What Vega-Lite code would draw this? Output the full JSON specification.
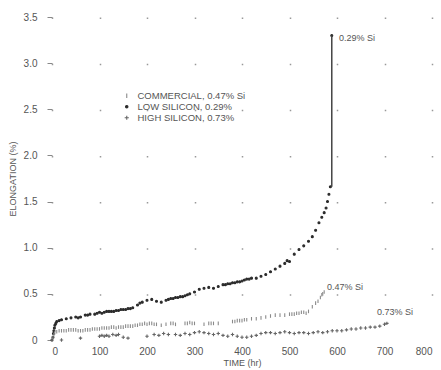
{
  "$schema": "https://vega.github.io/schema/vega-lite/v6.json",
  "width": 380,
  "height": 323,
  "autosize": "none",
  "padding": {"left": 52, "top": 17, "right": 9, "bottom": 30},
  "background": "white",
  "config": {
    "view": {"stroke": null},
    "font": "Liberation Sans",
    "axis": {"labelColor": "#555", "titleColor": "#555", "titleFontWeight": "normal", "domain": false, "labelFontSize": 10, "titleFontSize": 9}
  },
  "datasets": {
    "creep": [
      {"series": "LOW SILICON, 0.29%", "t": 0, "e": 0},
      {"series": "LOW SILICON, 0.29%", "t": 2, "e": 0.03},
      {"series": "LOW SILICON, 0.29%", "t": 3, "e": 0.07},
      {"series": "LOW SILICON, 0.29%", "t": 4, "e": 0.1},
      {"series": "LOW SILICON, 0.29%", "t": 5, "e": 0.13},
      {"series": "LOW SILICON, 0.29%", "t": 6, "e": 0.16},
      {"series": "LOW SILICON, 0.29%", "t": 8, "e": 0.18},
      {"series": "LOW SILICON, 0.29%", "t": 10, "e": 0.2},
      {"series": "LOW SILICON, 0.29%", "t": 15, "e": 0.21},
      {"series": "LOW SILICON, 0.29%", "t": 20, "e": 0.22},
      {"series": "LOW SILICON, 0.29%", "t": 30, "e": 0.23},
      {"series": "LOW SILICON, 0.29%", "t": 40, "e": 0.24},
      {"series": "LOW SILICON, 0.29%", "t": 50, "e": 0.25},
      {"series": "LOW SILICON, 0.29%", "t": 55, "e": 0.24},
      {"series": "LOW SILICON, 0.29%", "t": 60, "e": 0.25},
      {"series": "LOW SILICON, 0.29%", "t": 70, "e": 0.27},
      {"series": "LOW SILICON, 0.29%", "t": 75, "e": 0.27},
      {"series": "LOW SILICON, 0.29%", "t": 80, "e": 0.28},
      {"series": "LOW SILICON, 0.29%", "t": 90, "e": 0.28},
      {"series": "LOW SILICON, 0.29%", "t": 95, "e": 0.29},
      {"series": "LOW SILICON, 0.29%", "t": 100, "e": 0.3},
      {"series": "LOW SILICON, 0.29%", "t": 105, "e": 0.29},
      {"series": "LOW SILICON, 0.29%", "t": 110, "e": 0.3},
      {"series": "LOW SILICON, 0.29%", "t": 115, "e": 0.31},
      {"series": "LOW SILICON, 0.29%", "t": 120, "e": 0.31},
      {"series": "LOW SILICON, 0.29%", "t": 125, "e": 0.31},
      {"series": "LOW SILICON, 0.29%", "t": 130, "e": 0.31},
      {"series": "LOW SILICON, 0.29%", "t": 135, "e": 0.32},
      {"series": "LOW SILICON, 0.29%", "t": 140, "e": 0.32},
      {"series": "LOW SILICON, 0.29%", "t": 145, "e": 0.33},
      {"series": "LOW SILICON, 0.29%", "t": 150, "e": 0.33},
      {"series": "LOW SILICON, 0.29%", "t": 155, "e": 0.33},
      {"series": "LOW SILICON, 0.29%", "t": 160, "e": 0.34},
      {"series": "LOW SILICON, 0.29%", "t": 165, "e": 0.34},
      {"series": "LOW SILICON, 0.29%", "t": 170, "e": 0.35},
      {"series": "LOW SILICON, 0.29%", "t": 180, "e": 0.38},
      {"series": "LOW SILICON, 0.29%", "t": 185, "e": 0.4},
      {"series": "LOW SILICON, 0.29%", "t": 190, "e": 0.41},
      {"series": "LOW SILICON, 0.29%", "t": 200, "e": 0.43},
      {"series": "LOW SILICON, 0.29%", "t": 210, "e": 0.44},
      {"series": "LOW SILICON, 0.29%", "t": 220, "e": 0.42},
      {"series": "LOW SILICON, 0.29%", "t": 230, "e": 0.41},
      {"series": "LOW SILICON, 0.29%", "t": 240, "e": 0.43},
      {"series": "LOW SILICON, 0.29%", "t": 245, "e": 0.44},
      {"series": "LOW SILICON, 0.29%", "t": 250, "e": 0.45},
      {"series": "LOW SILICON, 0.29%", "t": 255, "e": 0.45},
      {"series": "LOW SILICON, 0.29%", "t": 260, "e": 0.46},
      {"series": "LOW SILICON, 0.29%", "t": 265, "e": 0.46},
      {"series": "LOW SILICON, 0.29%", "t": 270, "e": 0.47},
      {"series": "LOW SILICON, 0.29%", "t": 275, "e": 0.47},
      {"series": "LOW SILICON, 0.29%", "t": 280, "e": 0.48},
      {"series": "LOW SILICON, 0.29%", "t": 285, "e": 0.49},
      {"series": "LOW SILICON, 0.29%", "t": 290, "e": 0.5},
      {"series": "LOW SILICON, 0.29%", "t": 300, "e": 0.52},
      {"series": "LOW SILICON, 0.29%", "t": 310, "e": 0.55},
      {"series": "LOW SILICON, 0.29%", "t": 320, "e": 0.56},
      {"series": "LOW SILICON, 0.29%", "t": 330, "e": 0.57},
      {"series": "LOW SILICON, 0.29%", "t": 340, "e": 0.56},
      {"series": "LOW SILICON, 0.29%", "t": 350, "e": 0.58},
      {"series": "LOW SILICON, 0.29%", "t": 360, "e": 0.6},
      {"series": "LOW SILICON, 0.29%", "t": 365, "e": 0.6},
      {"series": "LOW SILICON, 0.29%", "t": 370, "e": 0.61},
      {"series": "LOW SILICON, 0.29%", "t": 375, "e": 0.61},
      {"series": "LOW SILICON, 0.29%", "t": 380, "e": 0.62},
      {"series": "LOW SILICON, 0.29%", "t": 385, "e": 0.62},
      {"series": "LOW SILICON, 0.29%", "t": 390, "e": 0.63},
      {"series": "LOW SILICON, 0.29%", "t": 395, "e": 0.63},
      {"series": "LOW SILICON, 0.29%", "t": 400, "e": 0.64},
      {"series": "LOW SILICON, 0.29%", "t": 405, "e": 0.65},
      {"series": "LOW SILICON, 0.29%", "t": 410, "e": 0.66},
      {"series": "LOW SILICON, 0.29%", "t": 415, "e": 0.66},
      {"series": "LOW SILICON, 0.29%", "t": 420, "e": 0.67},
      {"series": "LOW SILICON, 0.29%", "t": 430, "e": 0.67},
      {"series": "LOW SILICON, 0.29%", "t": 440, "e": 0.69},
      {"series": "LOW SILICON, 0.29%", "t": 450, "e": 0.71},
      {"series": "LOW SILICON, 0.29%", "t": 460, "e": 0.74},
      {"series": "LOW SILICON, 0.29%", "t": 470, "e": 0.77},
      {"series": "LOW SILICON, 0.29%", "t": 480, "e": 0.8},
      {"series": "LOW SILICON, 0.29%", "t": 490, "e": 0.83},
      {"series": "LOW SILICON, 0.29%", "t": 495, "e": 0.86},
      {"series": "LOW SILICON, 0.29%", "t": 500, "e": 0.85},
      {"series": "LOW SILICON, 0.29%", "t": 510, "e": 0.93},
      {"series": "LOW SILICON, 0.29%", "t": 520, "e": 0.98},
      {"series": "LOW SILICON, 0.29%", "t": 530, "e": 1.02},
      {"series": "LOW SILICON, 0.29%", "t": 540, "e": 1.07},
      {"series": "LOW SILICON, 0.29%", "t": 548, "e": 1.12},
      {"series": "LOW SILICON, 0.29%", "t": 555, "e": 1.19},
      {"series": "LOW SILICON, 0.29%", "t": 562, "e": 1.27},
      {"series": "LOW SILICON, 0.29%", "t": 568, "e": 1.33},
      {"series": "LOW SILICON, 0.29%", "t": 573, "e": 1.38},
      {"series": "LOW SILICON, 0.29%", "t": 577, "e": 1.43},
      {"series": "LOW SILICON, 0.29%", "t": 580, "e": 1.5},
      {"series": "LOW SILICON, 0.29%", "t": 583, "e": 1.58},
      {"series": "LOW SILICON, 0.29%", "t": 586, "e": 1.66},
      {"series": "LOW SILICON, 0.29%", "t": 589, "e": 3.3},
      {"series": "COMMERCIAL, 0.47% Si", "t": 0, "e": 0},
      {"series": "COMMERCIAL, 0.47% Si", "t": 2, "e": 0.03},
      {"series": "COMMERCIAL, 0.47% Si", "t": 4, "e": 0.06},
      {"series": "COMMERCIAL, 0.47% Si", "t": 6, "e": 0.08},
      {"series": "COMMERCIAL, 0.47% Si", "t": 10, "e": 0.09},
      {"series": "COMMERCIAL, 0.47% Si", "t": 15, "e": 0.1},
      {"series": "COMMERCIAL, 0.47% Si", "t": 20, "e": 0.1},
      {"series": "COMMERCIAL, 0.47% Si", "t": 25, "e": 0.1},
      {"series": "COMMERCIAL, 0.47% Si", "t": 30, "e": 0.1},
      {"series": "COMMERCIAL, 0.47% Si", "t": 35, "e": 0.11},
      {"series": "COMMERCIAL, 0.47% Si", "t": 40, "e": 0.11},
      {"series": "COMMERCIAL, 0.47% Si", "t": 45, "e": 0.11},
      {"series": "COMMERCIAL, 0.47% Si", "t": 50, "e": 0.11},
      {"series": "COMMERCIAL, 0.47% Si", "t": 55, "e": 0.1},
      {"series": "COMMERCIAL, 0.47% Si", "t": 60, "e": 0.1},
      {"series": "COMMERCIAL, 0.47% Si", "t": 65, "e": 0.1},
      {"series": "COMMERCIAL, 0.47% Si", "t": 70, "e": 0.11},
      {"series": "COMMERCIAL, 0.47% Si", "t": 75, "e": 0.11},
      {"series": "COMMERCIAL, 0.47% Si", "t": 80, "e": 0.11},
      {"series": "COMMERCIAL, 0.47% Si", "t": 85, "e": 0.12},
      {"series": "COMMERCIAL, 0.47% Si", "t": 90, "e": 0.12},
      {"series": "COMMERCIAL, 0.47% Si", "t": 95, "e": 0.12},
      {"series": "COMMERCIAL, 0.47% Si", "t": 100, "e": 0.12},
      {"series": "COMMERCIAL, 0.47% Si", "t": 105, "e": 0.13},
      {"series": "COMMERCIAL, 0.47% Si", "t": 110, "e": 0.13},
      {"series": "COMMERCIAL, 0.47% Si", "t": 115, "e": 0.13},
      {"series": "COMMERCIAL, 0.47% Si", "t": 120, "e": 0.13},
      {"series": "COMMERCIAL, 0.47% Si", "t": 125, "e": 0.14},
      {"series": "COMMERCIAL, 0.47% Si", "t": 130, "e": 0.14},
      {"series": "COMMERCIAL, 0.47% Si", "t": 135, "e": 0.13},
      {"series": "COMMERCIAL, 0.47% Si", "t": 140, "e": 0.14},
      {"series": "COMMERCIAL, 0.47% Si", "t": 145, "e": 0.14},
      {"series": "COMMERCIAL, 0.47% Si", "t": 150, "e": 0.14},
      {"series": "COMMERCIAL, 0.47% Si", "t": 155, "e": 0.15},
      {"series": "COMMERCIAL, 0.47% Si", "t": 160, "e": 0.15},
      {"series": "COMMERCIAL, 0.47% Si", "t": 165, "e": 0.15},
      {"series": "COMMERCIAL, 0.47% Si", "t": 170, "e": 0.15},
      {"series": "COMMERCIAL, 0.47% Si", "t": 175, "e": 0.16},
      {"series": "COMMERCIAL, 0.47% Si", "t": 180, "e": 0.16},
      {"series": "COMMERCIAL, 0.47% Si", "t": 185, "e": 0.17},
      {"series": "COMMERCIAL, 0.47% Si", "t": 190, "e": 0.17},
      {"series": "COMMERCIAL, 0.47% Si", "t": 195, "e": 0.18},
      {"series": "COMMERCIAL, 0.47% Si", "t": 200, "e": 0.17},
      {"series": "COMMERCIAL, 0.47% Si", "t": 205, "e": 0.18},
      {"series": "COMMERCIAL, 0.47% Si", "t": 210, "e": 0.18},
      {"series": "COMMERCIAL, 0.47% Si", "t": 215, "e": 0.17},
      {"series": "COMMERCIAL, 0.47% Si", "t": 220, "e": 0.17},
      {"series": "COMMERCIAL, 0.47% Si", "t": 230, "e": 0.16},
      {"series": "COMMERCIAL, 0.47% Si", "t": 240, "e": 0.17},
      {"series": "COMMERCIAL, 0.47% Si", "t": 250, "e": 0.18},
      {"series": "COMMERCIAL, 0.47% Si", "t": 255, "e": 0.18},
      {"series": "COMMERCIAL, 0.47% Si", "t": 260, "e": 0.17},
      {"series": "COMMERCIAL, 0.47% Si", "t": 280, "e": 0.18},
      {"series": "COMMERCIAL, 0.47% Si", "t": 285, "e": 0.18},
      {"series": "COMMERCIAL, 0.47% Si", "t": 290, "e": 0.19},
      {"series": "COMMERCIAL, 0.47% Si", "t": 295, "e": 0.18},
      {"series": "COMMERCIAL, 0.47% Si", "t": 300, "e": 0.18},
      {"series": "COMMERCIAL, 0.47% Si", "t": 320, "e": 0.17},
      {"series": "COMMERCIAL, 0.47% Si", "t": 330, "e": 0.18},
      {"series": "COMMERCIAL, 0.47% Si", "t": 335, "e": 0.18},
      {"series": "COMMERCIAL, 0.47% Si", "t": 340, "e": 0.18},
      {"series": "COMMERCIAL, 0.47% Si", "t": 350, "e": 0.18},
      {"series": "COMMERCIAL, 0.47% Si", "t": 380, "e": 0.2},
      {"series": "COMMERCIAL, 0.47% Si", "t": 385, "e": 0.2},
      {"series": "COMMERCIAL, 0.47% Si", "t": 390, "e": 0.21},
      {"series": "COMMERCIAL, 0.47% Si", "t": 395, "e": 0.21},
      {"series": "COMMERCIAL, 0.47% Si", "t": 400, "e": 0.21},
      {"series": "COMMERCIAL, 0.47% Si", "t": 405, "e": 0.22},
      {"series": "COMMERCIAL, 0.47% Si", "t": 410, "e": 0.22},
      {"series": "COMMERCIAL, 0.47% Si", "t": 420, "e": 0.23},
      {"series": "COMMERCIAL, 0.47% Si", "t": 430, "e": 0.23},
      {"series": "COMMERCIAL, 0.47% Si", "t": 440, "e": 0.24},
      {"series": "COMMERCIAL, 0.47% Si", "t": 450, "e": 0.25},
      {"series": "COMMERCIAL, 0.47% Si", "t": 460, "e": 0.26},
      {"series": "COMMERCIAL, 0.47% Si", "t": 470, "e": 0.27},
      {"series": "COMMERCIAL, 0.47% Si", "t": 480, "e": 0.27},
      {"series": "COMMERCIAL, 0.47% Si", "t": 490, "e": 0.27},
      {"series": "COMMERCIAL, 0.47% Si", "t": 500, "e": 0.28},
      {"series": "COMMERCIAL, 0.47% Si", "t": 505, "e": 0.28},
      {"series": "COMMERCIAL, 0.47% Si", "t": 510, "e": 0.28},
      {"series": "COMMERCIAL, 0.47% Si", "t": 515, "e": 0.29},
      {"series": "COMMERCIAL, 0.47% Si", "t": 520, "e": 0.29},
      {"series": "COMMERCIAL, 0.47% Si", "t": 525, "e": 0.3},
      {"series": "COMMERCIAL, 0.47% Si", "t": 530, "e": 0.3},
      {"series": "COMMERCIAL, 0.47% Si", "t": 535, "e": 0.29},
      {"series": "COMMERCIAL, 0.47% Si", "t": 540, "e": 0.31},
      {"series": "COMMERCIAL, 0.47% Si", "t": 548, "e": 0.36},
      {"series": "COMMERCIAL, 0.47% Si", "t": 555, "e": 0.4},
      {"series": "COMMERCIAL, 0.47% Si", "t": 560, "e": 0.42},
      {"series": "COMMERCIAL, 0.47% Si", "t": 565, "e": 0.46},
      {"series": "COMMERCIAL, 0.47% Si", "t": 568, "e": 0.49},
      {"series": "COMMERCIAL, 0.47% Si", "t": 570, "e": 0.5},
      {"series": "COMMERCIAL, 0.47% Si", "t": 573, "e": 0.52},
      {"series": "HIGH SILICON, 0.73%", "t": 20, "e": 0.0},
      {"series": "HIGH SILICON, 0.73%", "t": 60, "e": 0.02},
      {"series": "HIGH SILICON, 0.73%", "t": 100, "e": 0.04},
      {"series": "HIGH SILICON, 0.73%", "t": 105, "e": 0.05},
      {"series": "HIGH SILICON, 0.73%", "t": 110, "e": 0.04},
      {"series": "HIGH SILICON, 0.73%", "t": 115, "e": 0.05},
      {"series": "HIGH SILICON, 0.73%", "t": 120, "e": 0.04},
      {"series": "HIGH SILICON, 0.73%", "t": 128, "e": 0.06},
      {"series": "HIGH SILICON, 0.73%", "t": 135, "e": 0.05},
      {"series": "HIGH SILICON, 0.73%", "t": 140, "e": 0.06},
      {"series": "HIGH SILICON, 0.73%", "t": 150, "e": 0.03},
      {"series": "HIGH SILICON, 0.73%", "t": 160, "e": 0.02},
      {"series": "HIGH SILICON, 0.73%", "t": 200, "e": 0.04},
      {"series": "HIGH SILICON, 0.73%", "t": 215, "e": 0.06},
      {"series": "HIGH SILICON, 0.73%", "t": 225, "e": 0.05},
      {"series": "HIGH SILICON, 0.73%", "t": 235, "e": 0.07},
      {"series": "HIGH SILICON, 0.73%", "t": 245, "e": 0.06},
      {"series": "HIGH SILICON, 0.73%", "t": 260, "e": 0.06},
      {"series": "HIGH SILICON, 0.73%", "t": 270, "e": 0.05},
      {"series": "HIGH SILICON, 0.73%", "t": 280, "e": 0.07},
      {"series": "HIGH SILICON, 0.73%", "t": 290, "e": 0.06},
      {"series": "HIGH SILICON, 0.73%", "t": 300, "e": 0.08},
      {"series": "HIGH SILICON, 0.73%", "t": 310, "e": 0.09},
      {"series": "HIGH SILICON, 0.73%", "t": 320, "e": 0.08},
      {"series": "HIGH SILICON, 0.73%", "t": 330, "e": 0.07},
      {"series": "HIGH SILICON, 0.73%", "t": 340, "e": 0.06},
      {"series": "HIGH SILICON, 0.73%", "t": 350, "e": 0.07},
      {"series": "HIGH SILICON, 0.73%", "t": 360, "e": 0.05},
      {"series": "HIGH SILICON, 0.73%", "t": 370, "e": 0.04},
      {"series": "HIGH SILICON, 0.73%", "t": 380, "e": 0.06},
      {"series": "HIGH SILICON, 0.73%", "t": 390, "e": 0.04},
      {"series": "HIGH SILICON, 0.73%", "t": 400, "e": 0.03},
      {"series": "HIGH SILICON, 0.73%", "t": 410, "e": 0.03},
      {"series": "HIGH SILICON, 0.73%", "t": 420, "e": 0.04},
      {"series": "HIGH SILICON, 0.73%", "t": 430, "e": 0.05},
      {"series": "HIGH SILICON, 0.73%", "t": 440, "e": 0.07},
      {"series": "HIGH SILICON, 0.73%", "t": 450, "e": 0.08},
      {"series": "HIGH SILICON, 0.73%", "t": 460, "e": 0.08},
      {"series": "HIGH SILICON, 0.73%", "t": 470, "e": 0.07},
      {"series": "HIGH SILICON, 0.73%", "t": 480, "e": 0.08},
      {"series": "HIGH SILICON, 0.73%", "t": 490, "e": 0.09},
      {"series": "HIGH SILICON, 0.73%", "t": 500, "e": 0.08},
      {"series": "HIGH SILICON, 0.73%", "t": 510, "e": 0.07},
      {"series": "HIGH SILICON, 0.73%", "t": 520, "e": 0.08},
      {"series": "HIGH SILICON, 0.73%", "t": 530, "e": 0.08},
      {"series": "HIGH SILICON, 0.73%", "t": 540, "e": 0.07},
      {"series": "HIGH SILICON, 0.73%", "t": 550, "e": 0.08},
      {"series": "HIGH SILICON, 0.73%", "t": 560, "e": 0.09},
      {"series": "HIGH SILICON, 0.73%", "t": 570, "e": 0.08},
      {"series": "HIGH SILICON, 0.73%", "t": 580, "e": 0.09},
      {"series": "HIGH SILICON, 0.73%", "t": 590, "e": 0.1},
      {"series": "HIGH SILICON, 0.73%", "t": 600, "e": 0.1},
      {"series": "HIGH SILICON, 0.73%", "t": 610, "e": 0.1},
      {"series": "HIGH SILICON, 0.73%", "t": 620, "e": 0.11},
      {"series": "HIGH SILICON, 0.73%", "t": 630, "e": 0.12},
      {"series": "HIGH SILICON, 0.73%", "t": 640, "e": 0.12},
      {"series": "HIGH SILICON, 0.73%", "t": 650, "e": 0.13},
      {"series": "HIGH SILICON, 0.73%", "t": 660, "e": 0.13},
      {"series": "HIGH SILICON, 0.73%", "t": 670, "e": 0.14},
      {"series": "HIGH SILICON, 0.73%", "t": 680, "e": 0.14},
      {"series": "HIGH SILICON, 0.73%", "t": 690, "e": 0.15},
      {"series": "HIGH SILICON, 0.73%", "t": 700, "e": 0.17},
      {"series": "HIGH SILICON, 0.73%", "t": 705, "e": 0.18}
    ],
    "rupture": [{"t": 589, "e": 1.66, "e2": 3.3}],
    "notes": [
      {"t": 604, "e": 3.27, "label": "0.29% Si"},
      {"t": 579, "e": 0.57, "label": "0.47% Si"},
      {"t": 684, "e": 0.30, "label": "0.73% Si"}
    ]
  },
  "layer": [
    {
      "data": {"name": "creep"},
      "mark": {"type": "point", "filled": true, "strokeWidth": 1.1, "size": 4, "opacity": 1},
      "encoding": {
        "x": {"field": "t", "type": "quantitative",
          "scale": {"domain": [0, 800], "nice": false},
          "axis": {"title": "TIME (hr)", "values": [0,100,200,300,400,500,600,700,800], "ticks": false, "labelPadding": 6, "titlePadding": 2,
            "grid": true, "gridColor": "#999", "gridWidth": 1.5, "gridDash": [1.5, 44.64]}},
        "y": {"field": "e", "type": "quantitative",
          "scale": {"domain": [0, 3.5], "nice": false},
          "axis": {"title": "ELONGATION (%)", "values": [0,0.5,1,1.5,2,2.5,3,3.5], "grid": false, "ticks": true, "tickSize": 5, "tickColor": "#888", "labelPadding": 10, "titlePadding": 6,
            "labelExpr": "datum.value == 0 ? '0' : format(datum.value, '.1f')"}},
        "shape": {"field": "series", "type": "nominal",
          "scale": {"domain": ["COMMERCIAL, 0.47% Si", "LOW SILICON, 0.29%", "HIGH SILICON, 0.73%"],
                    "range": ["M0,-1.8L0,1.8", "circle", "M-1.7,0L1.7,0M0,-1.7L0,1.7"]},
          "legend": {"title": null, "orient": "none", "legendX": 70, "legendY": 74, "padding": 0, "labelFontSize": 9.5, "labelColor": "#555", "labelOffset": 6, "rowPadding": 0, "symbolSize": 6, "symbolStrokeWidth": 1.1}},
        "color": {"field": "series", "type": "nominal",
          "scale": {"domain": ["COMMERCIAL, 0.47% Si", "LOW SILICON, 0.29%", "HIGH SILICON, 0.73%"],
                    "range": ["#8a8a8a", "#2a2a2a", "#666666"]},
          "legend": {"title": null, "orient": "none", "legendX": 70, "legendY": 74, "padding": 0, "labelFontSize": 9.5, "labelColor": "#555", "labelOffset": 6, "rowPadding": 0, "symbolSize": 6, "symbolStrokeWidth": 1.1}},
        "stroke": {"field": "series", "type": "nominal",
          "scale": {"domain": ["COMMERCIAL, 0.47% Si", "LOW SILICON, 0.29%", "HIGH SILICON, 0.73%"],
                    "range": ["#8a8a8a", "#2a2a2a", "#666666"]},
          "legend": {"title": null, "orient": "none", "legendX": 70, "legendY": 74, "padding": 0, "labelFontSize": 9.5, "labelColor": "#555", "labelOffset": 6, "rowPadding": 0, "symbolSize": 6, "symbolStrokeWidth": 1.1}}
      }
    },
    {
      "data": {"name": "rupture"},
      "mark": {"type": "rule", "color": "#444", "strokeWidth": 1.5},
      "encoding": {
        "x": {"field": "t", "type": "quantitative"},
        "y": {"field": "e", "type": "quantitative"},
        "y2": {"field": "e2"}
      }
    },
    {
      "data": {"name": "notes"},
      "mark": {"type": "text", "align": "left", "baseline": "middle", "fontSize": 9, "color": "#555", "font": "Liberation Sans"},
      "encoding": {
        "x": {"field": "t", "type": "quantitative"},
        "y": {"field": "e", "type": "quantitative"},
        "text": {"field": "label"}
      }
    }
  ]
}
